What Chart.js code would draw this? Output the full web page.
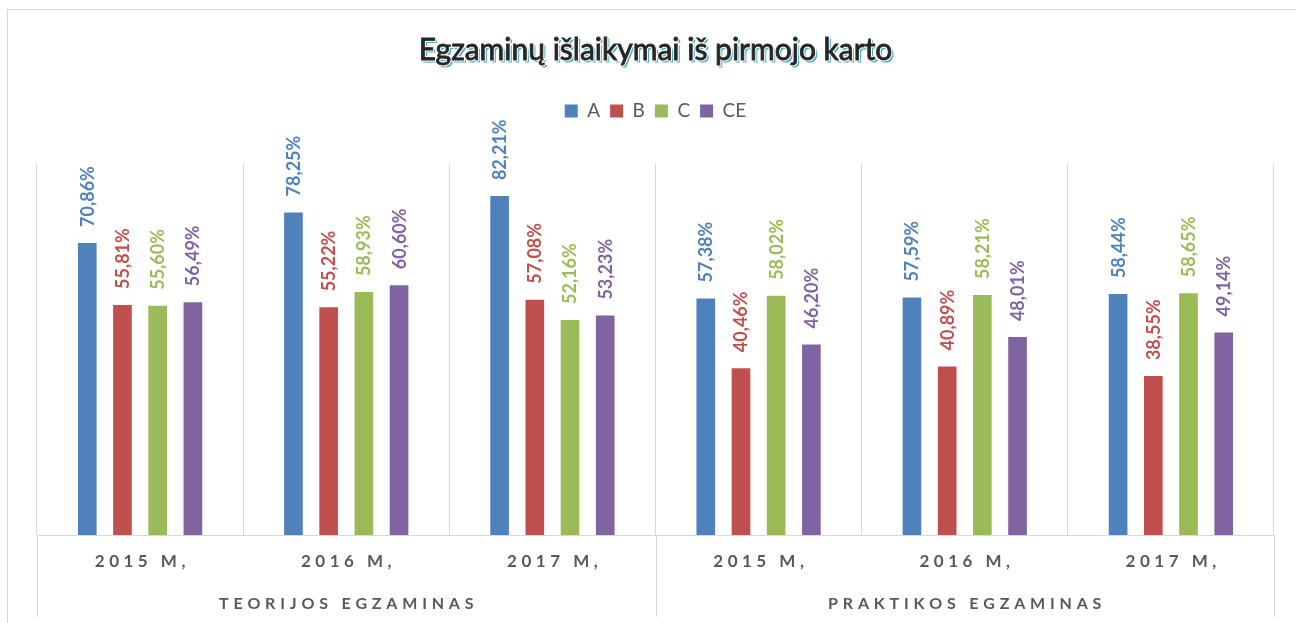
<!DOCTYPE html>
<html>
<head>
<meta charset="utf-8">
<title>Egzaminų išlaikymai</title>
<script src="https://cdn.jsdelivr.net/npm/chart.js@4.4.1/dist/chart.umd.min.js"></script>
<style>
  html, body { margin: 0; padding: 0; background: #fff; }
  #wrap { position: relative; width: 1296px; height: 623px; overflow: hidden; }
  #frame { position: absolute; left: 7px; top: 9px; width: 1400px; height: 700px;
           border: 1px solid #d9d9d9; box-sizing: border-box; }
  #myChart { position: absolute; left: 0; top: 0; }
</style>
</head>
<body>
<div id="wrap">
  <div id="frame"></div>
  <canvas id="myChart" width="1296" height="623"></canvas>
</div>
<script>
const titulas = 'Egzaminų išlaikymai iš pirmojo karto';
const metai = ['2015 M,', '2016 M,', '2017 M,', '2015 M,', '2016 M,', '2017 M,'];
const grupes = ['TEORIJOS EGZAMINAS', 'PRAKTIKOS EGZAMINAS'];
const serijos = ['A', 'B', 'C', 'CE'];

const reiksmesA = [70.86, 78.25, 82.21, 57.38, 57.59, 58.44];
const reiksmesB = [55.81, 55.22, 57.08, 40.46, 40.89, 38.55];
const reiksmesC = [55.60, 58.93, 52.16, 58.02, 58.21, 58.65];
const reiksmesCE = [56.49, 60.60, 53.23, 46.20, 48.01, 49.14];

const spalvos = ['#4f81bd', '#c0504d', '#9bbb59', '#8064a2'];
const grid = '#d9d9d9';
const tekstas = '#595959';

const graph = document.querySelector('#myChart');

// title shadow + outline drawn under the built-in title
const titleShadow = {
    id: 'titleShadow',
    beforeDraw(chart) {
        const t = chart.titleBlock;
        if (!t) return;
        const ctx = chart.ctx;
        const cx = (t.left + t.right) / 2;
        const cy = t.top + t.options.padding.top + 36 / 2;
        ctx.save();
        ctx.font = '30px Lato';
        ctx.textAlign = 'center';
        ctx.textBaseline = 'middle';
        ctx.fillStyle = '#4bacc6';
        ctx.strokeStyle = '#4bacc6';
        ctx.lineWidth = 1;
        ctx.fillText(titulas, cx + 2, cy + 2);
        ctx.strokeText(titulas, cx + 2, cy + 2);
        ctx.lineWidth = 3;
        ctx.strokeStyle = '#ffffff';
        ctx.strokeText(titulas, cx, cy);
        ctx.lineWidth = 0.8;
        ctx.strokeStyle = '#262626';
        ctx.strokeText(titulas, cx, cy);
        ctx.restore();
    }
};

// extra room under the legend
const legendSpace = {
    id: 'legendSpace',
    beforeInit(chart) {
        const fit = chart.legend.fit;
        chart.legend.fit = function () {
            fit.bind(chart.legend)();
            this.height += 33.5;
        };
    }
};

const spacedText = (ctx, txt, cx, cy, gap) => {
    const chars = [...txt];
    const widths = chars.map(c => ctx.measureText(c).width);
    const total = widths.reduce((a, b) => a + b, 0) + gap * (chars.length - 1);
    let x = cx - total / 2;
    chars.forEach((c, i) => {
        ctx.fillText(c, x, cy);
        x += widths[i] + gap;
    });
};

// rotated value labels above the bars
const barLabels = {
    id: 'barLabels',
    afterDatasetsDraw(chart) {
        const ctx = chart.ctx;
        const size = 18;
        ctx.save();
        ctx.font = `bold ${size}px Lato`;
        ctx.textAlign = 'left';
        ctx.textBaseline = 'alphabetic';
        chart.data.datasets.forEach((ds, i) => {
            chart.getDatasetMeta(i).data.forEach((bar, j) => {
                const txt = ds.data[j].toFixed(2).replace('.', ',') + '%';
                ctx.save();
                ctx.translate(bar.x, bar.y - 16);
                ctx.rotate(-Math.PI / 2);
                ctx.fillStyle = ds.backgroundColor;
                ctx.fillText(txt, 0, size * 0.36);
                ctx.restore();
            });
        });
        ctx.restore();
    }
};

// letter-spaced axis labels and the group separators below the axis
const axisLabels = {
    id: 'axisLabels',
    afterDraw(chart) {
        const ctx = chart.ctx;
        const x = chart.scales.x;
        const x2 = chart.scales.x2;
        ctx.save();
        ctx.fillStyle = tekstas;
        ctx.textAlign = 'left';
        ctx.textBaseline = 'middle';
        ctx.font = 'bold 17px Lato';
        metai.forEach((m, i) => spacedText(ctx, m, x.getPixelForValue(i), x.top + 27, 4.5));
        ctx.font = 'bold 16px Lato';
        grupes.forEach((g, i) => spacedText(ctx, g, x2.getPixelForValue(i), x2.top + 26, 4.8));

        const mid = (x2.getPixelForValue(0) + x2.getPixelForValue(1)) / 2;
        ctx.strokeStyle = grid;
        ctx.lineWidth = 1;
        [x2.left, mid, x2.right].forEach(px => {
            const p = Math.round(px) + 0.5;
            ctx.beginPath();
            ctx.moveTo(p, x.top);
            ctx.lineTo(p, x2.bottom);
            ctx.stroke();
        });
        ctx.restore();
    }
};

const chart = new Chart(graph, {
    type: 'bar',
    data: {
        labels: metai,
        datasets: [
            { label: serijos[0], data: reiksmesA, backgroundColor: spalvos[0] },
            { label: serijos[1], data: reiksmesB, backgroundColor: spalvos[1] },
            { label: serijos[2], data: reiksmesC, backgroundColor: spalvos[2] },
            { label: serijos[3], data: reiksmesCE, backgroundColor: spalvos[3] }
        ]
    },
    options: {
        responsive: false,
        animation: false,
        datasets: {
            bar: { categoryPercentage: 0.683, barPercentage: 0.53 }
        },
        layout: { padding: { left: 37, right: 22, top: 0, bottom: 6 } },
        scales: {
            y: { display: false, min: 0, max: 90 },
            x: {
                grid: { color: grid, offset: true, drawTicks: false },
                border: { color: grid },
                ticks: { display: false },
                afterFit: s => { s.height = 43; }
            },
            x2: {
                type: 'category',
                labels: grupes,
                position: 'bottom',
                offset: true,
                grid: { display: false },
                border: { display: false },
                ticks: { display: false },
                afterFit: s => { s.height = 39; }
            }
        },
        plugins: {
            title: {
                display: true,
                text: titulas,
                color: '#262626',
                font: { family: 'Lato', size: 30, weight: 'normal', lineHeight: 1.2 },
                padding: { top: 32, bottom: 23.5 }
            },
            legend: {
                position: 'top',
                labels: {
                    color: tekstas,
                    font: { family: 'Lato', size: 19 },
                    boxWidth: 13,
                    boxHeight: 13,
                    padding: 10
                }
            },
            tooltip: { enabled: false }
        }
    },
    plugins: [titleShadow, legendSpace, barLabels, axisLabels]
});
</script>
</body>
</html>
